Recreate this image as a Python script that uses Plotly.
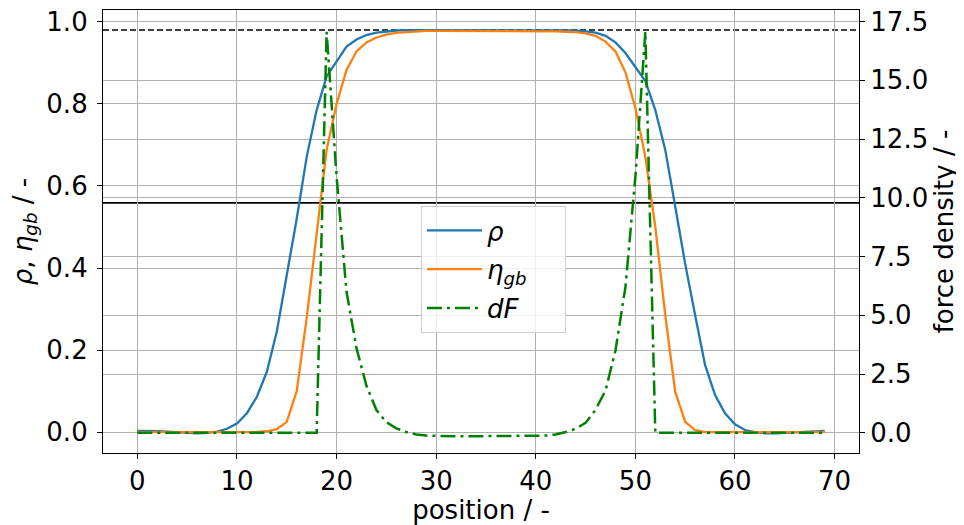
import plotly.graph_objects as go

position = list(range(70))

rho = [0.003, 0.003, 0.002, 0.001, 0.0, -0.002, -0.003, -0.002, 0.001, 0.008,
       0.021, 0.046, 0.086, 0.147, 0.245, 0.383, 0.52, 0.671, 0.785, 0.867,
       0.905, 0.94, 0.957, 0.968, 0.974, 0.977, 0.979, 0.98, 0.98, 0.98,
       0.98, 0.98, 0.98, 0.98, 0.98, 0.98, 0.98, 0.98, 0.98, 0.98,
       0.98, 0.98, 0.98, 0.98, 0.979, 0.977, 0.974, 0.966, 0.95, 0.924,
       0.891, 0.856, 0.785, 0.688, 0.55, 0.41, 0.285, 0.163, 0.09, 0.046,
       0.019, 0.005, 0.0, -0.003, -0.003, -0.002, 0.0, 0.001, 0.002, 0.003]

eta_gb = [0.0, 0.0, 0.0, 0.0, 0.0, 0.0, 0.0, 0.0, 0.0, 0.0,
          0.0, 0.0, 0.0, 0.002, 0.007, 0.025, 0.10, 0.278, 0.49, 0.688,
          0.80, 0.883, 0.928, 0.95, 0.962, 0.969, 0.973, 0.975, 0.977, 0.978,
          0.978, 0.978, 0.978, 0.978, 0.978, 0.978, 0.978, 0.978, 0.978, 0.978,
          0.978, 0.978, 0.977, 0.976, 0.975, 0.972, 0.966, 0.952, 0.928, 0.877,
          0.79, 0.671, 0.50, 0.285, 0.098, 0.025, 0.005, 0.0, 0.0, 0.0,
          0.0, 0.0, 0.0, 0.0, 0.0, 0.0, 0.0, 0.0, 0.0, 0.0]

dF = [0.0, 0.0, 0.0, 0.0, 0.0, 0.0, 0.0, 0.0, 0.0, 0.0,
      0.0, 0.0, 0.0, 0.0, 0.0, 0.0, 0.0, 0.0, 0.0, 17.06,
      10.9, 6.0, 3.6, 2.0, 0.97, 0.45, 0.19, 0.03, -0.07, -0.12,
      -0.14, -0.15, -0.15, -0.15, -0.15, -0.15, -0.15, -0.15, -0.15, -0.15,
      -0.14, -0.12, -0.07, 0.03, 0.17, 0.42, 0.98, 1.8, 3.5, 6.2,
      10.9, 17.06, 0.0, 0.0, 0.0, 0.0, 0.0, 0.0, 0.0, 0.0,
      0.0, 0.0, 0.0, 0.0, 0.0, 0.0, 0.0, 0.0, 0.0, 0.0]

dashed_level = 0.98
solid_level = 0.559

left_ticks = [0.0, 0.2, 0.4, 0.6, 0.8, 1.0]
right_ticks = [0.0, 2.5, 5.0, 7.5, 10.0, 12.5, 15.0, 17.5]
x_ticks = [0, 10, 20, 30, 40, 50, 60, 70]

FONT = "DejaVu Sans"
FS = 26
GRID = "#b0b0b0"

fig = go.Figure()
fig.add_trace(go.Scatter(x=position, y=rho, mode="lines", name="<i>ρ</i>",
                         legendgroup="a",
                         line=dict(color="#1f77b4", width=2.3)))
fig.add_trace(go.Scatter(x=position, y=eta_gb, mode="lines",
                         name="<i>η</i><sub><i>gb</i></sub>&nbsp;&nbsp;&nbsp;&nbsp;", legendgroup="b",
                         line=dict(color="#ff7f0e", width=2.3)))
fig.add_trace(go.Scatter(x=position, y=dF, mode="lines", name="<i>dF</i>",
                         yaxis="y2", legendgroup="c",
                         line=dict(color="green", width=2.5, dash="15px,5px,3px,5px")))

fig.add_shape(type="line", xref="paper", x0=0, x1=1, yref="y",
              y0=dashed_level, y1=dashed_level, layer="between",
              line=dict(color="black", width=1.5, dash="6px,3px"))
fig.add_shape(type="line", xref="paper", x0=0, x1=1, yref="y",
              y0=solid_level, y1=solid_level, layer="between",
              line=dict(color="black", width=1.8))

axis_common = dict(showline=True, linecolor="black", linewidth=1.2,
                   ticks="outside", ticklen=5, tickwidth=1.2, tickcolor="black",
                   showgrid=True, gridcolor=GRID, gridwidth=1.1, automargin=False,
                   ticklabeloverflow="allow",
                   zeroline=False, tickfont=dict(family=FONT, size=FS, color="black"))

fig.update_layout(
    width=956, height=517,
    margin=dict(l=95, r=105, t=2, b=72),
    paper_bgcolor="white", plot_bgcolor="white",
    font=dict(family=FONT, size=FS, color="black"),
    xaxis=dict(range=[-3.45, 72.45], tickvals=x_ticks, mirror=True,
               title=dict(text="position / -", standoff=2,
                          font=dict(family=FONT, size=FS)),
               **axis_common),
    yaxis=dict(range=[-0.051, 1.029], tickvals=left_ticks, tickformat=".1f",
               ticklabelstandoff=4,
               title=dict(text="<i>ρ</i>, <i>η</i><sub><i>gb</i></sub> / -", standoff=17,
                          font=dict(family=FONT, size=FS)),
               **axis_common),
    yaxis2=dict(range=[-0.86, 17.99], tickvals=right_ticks, tickformat=".1f",
                overlaying="y", side="right",
                title=dict(text="force density / -", standoff=7,
                           font=dict(family=FONT, size=FS)),
                **axis_common),
    legend=dict(x=0.4206, y=0.5576, xanchor="left", yanchor="top",
                bgcolor="rgba(255,255,255,0.8)", bordercolor="#cccccc", borderwidth=1,
                font=dict(family=FONT, size=FS), itemwidth=55,
                traceorder="grouped", tracegroupgap=2),
    showlegend=True,
)

fig.write_html("out.html")
